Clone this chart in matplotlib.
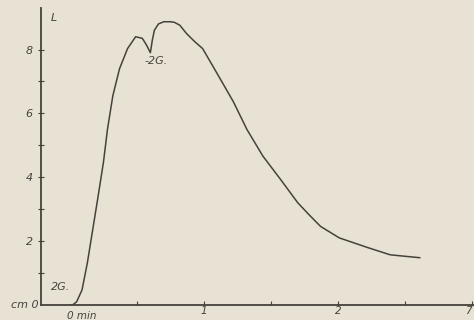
import numpy as np
import matplotlib
matplotlib.use("Agg")
import matplotlib.pyplot as plt

# curve: time (min) vs L (cm)
t = [0, 0.02, 0.05, 0.09, 0.13, 0.17, 0.21, 0.25, 0.28, 0.32, 0.37, 0.43,
     0.49, 0.54, 0.57, 0.60, 0.615, 0.63, 0.66, 0.70, 0.75, 0.78, 0.82,
     0.87, 0.93, 0.99, 1.12, 1.22, 1.32, 1.44, 1.57, 1.70, 1.79, 1.87,
     2.01, 2.22, 2.39, 2.61]
L = [0, 0.0, 0.1, 0.47, 1.32, 2.36, 3.4, 4.47, 5.5, 6.55, 7.4, 8.03,
     8.4, 8.35, 8.15, 7.9, 8.3, 8.6, 8.8, 8.87, 8.87, 8.85, 8.76,
     8.5, 8.25, 8.03, 7.09, 6.36, 5.5, 4.66, 3.94, 3.2, 2.8, 2.46,
     2.1, 1.8, 1.57, 1.48]

y_ticks = [2, 4, 6, 8]
x_ticks = [1, 2, 3]
x_labels = ["1", "2", "7"]

bg = "#e8e2d5"
ink = "#46413b"

fig = plt.figure(figsize=(4.74, 3.2), dpi=100, facecolor=bg)
ax = fig.add_axes([0.0865, 0.047, 0.9135, 0.928], facecolor=bg)

ax.plot(t, L, color=ink, linewidth=1.1, solid_joinstyle="round")

ax.set_xlim(-0.216, 3.015)
ax.set_ylim(0, 9.3)
for s in ("top", "right"):
    ax.spines[s].set_visible(False)
for s in ("left", "bottom"):
    ax.spines[s].set_color(ink)
    ax.spines[s].set_linewidth(1.3)

ax.set_yticks(np.arange(1, 9))
ax.set_yticklabels(["" if v not in y_ticks else str(v) for v in range(1, 9)],
                   fontstyle="italic", fontsize=8, color=ink)
ax.tick_params(axis="y", direction="inout", length=4, width=0.8, color=ink, pad=4)

ax.set_xticks(np.arange(0.5, 3.01, 0.5))
ax.set_xticklabels(["", x_labels[0], "", x_labels[1], "", x_labels[2]],
                   fontstyle="italic", fontsize=7.5, color=ink)
ax.tick_params(axis="x", direction="in", length=3, width=0.8, color=ink, pad=1)
ax.get_xticklabels()[-1].set_horizontalalignment("right")

ax.text(-0.02, -0.02, "0 min", ha="left", va="top", fontsize=7.5,
        fontstyle="italic", color=ink,
        transform=ax.get_xaxis_transform())
ax.text(-0.236, 0.0, "cm 0", ha="right", va="center", fontsize=8,
        fontstyle="italic", color=ink)
ax.text(-0.12, 9.0, "L", ha="center", va="center", fontsize=8,
        fontstyle="italic", color=ink)
ax.text(0.0, 0.55, "2G.", ha="right", va="center", fontsize=8,
        fontstyle="italic", color=ink)
ax.text(0.56, 7.65, "-2G.", ha="left", va="center", fontsize=8,
        fontstyle="italic", color=ink)

fig.savefig("out.png", dpi=100, facecolor=bg)
